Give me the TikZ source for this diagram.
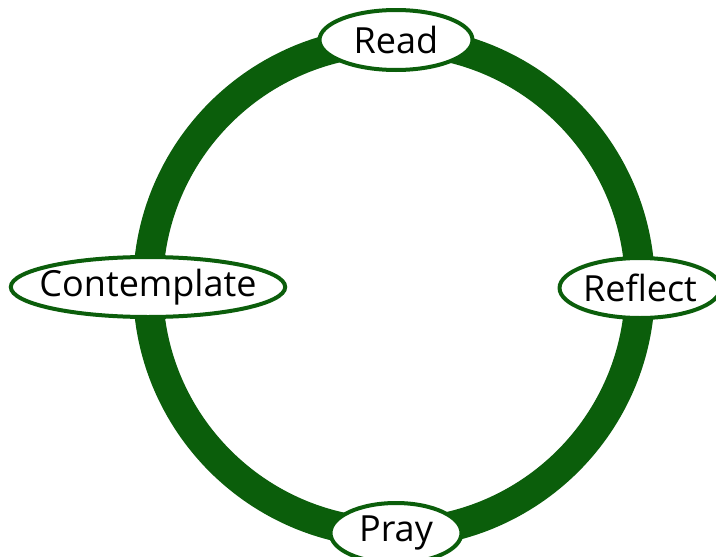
\documentclass[tikz,border=0pt]{standalone}
\usepackage{fontspec}
\setmainfont{Open Sans}
\usetikzlibrary{shapes.geometric}
\definecolor{ringgreen}{HTML}{0B5E0B}
\tikzset{
  ring/.style={draw=ringgreen, line width=30pt},
  stage/.style={ellipse, draw=ringgreen, line width=4pt, fill=white, inner sep=0pt,
    minimum height=60pt, font=\fontsize{36}{40}\selectfont}
}
\begin{document}
\begin{tikzpicture}[x=1pt,y=-1pt]
  \useasboundingbox (0,0) rectangle (716,557);
  \coordinate (c) at (394,287);
  \draw[ring] (c) circle[radius=246pt];
  % stages round the ring
  \node[stage, minimum width=153pt] (read) at (396,40) {Read};
  \node[stage, minimum width=155pt] (reflect) at (640,288) {Reflect};
  \node[stage, minimum width=131pt] (pray) at (396,533) {Pray};
  \node[stage, inner xsep=-11.5pt, minimum width=273pt] (contemplate) at (148,287) {Contemplate};
\end{tikzpicture}
\end{document}
